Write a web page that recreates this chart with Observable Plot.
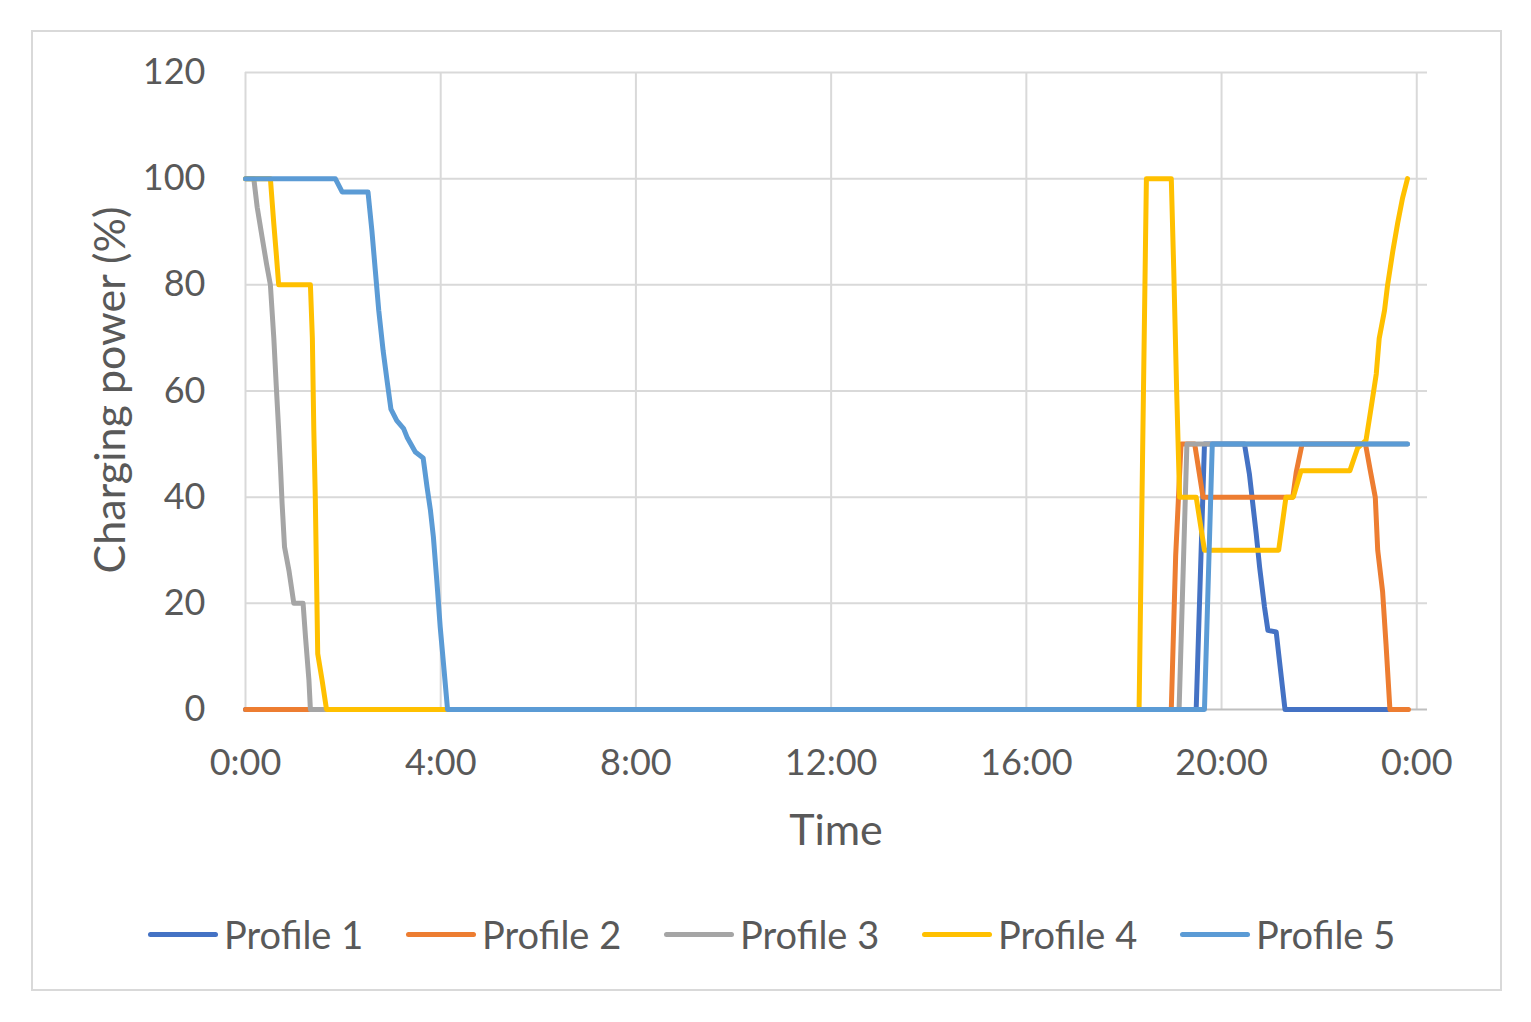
<!DOCTYPE html>
<html>
<head>
<meta charset="utf-8">
<script src="https://cdn.jsdelivr.net/npm/d3@7"></script>
<script src="https://cdn.jsdelivr.net/npm/@observablehq/plot@0.6"></script>
<style>
  html, body { margin: 0; padding: 0; background: #fff; }
  #wrap { position: relative; width: 1531px; height: 1022px; overflow: hidden; font-family: Lato, "Open Sans", sans-serif; color: #595959; }
  #border { position: absolute; left: 31px; top: 30px; width: 1471px; height: 961px; border: 2px solid #d9d9d9; box-sizing: border-box; }
  #chart { position: absolute; left: 0; top: 0; }
  .ytitle { position: absolute; left: 108px; top: 390px; transform: translate(-50%, -50%) rotate(-90deg); font-size: 43px; white-space: nowrap; }
  .xtitle { position: absolute; left: 836px; top: 828px; transform: translate(-50%, -50%); font-size: 43px; white-space: nowrap; }
  #legend { position: absolute; left: 148px; top: 934px; transform: translateY(-50%); display: flex; font-size: 38px; }
  .item { display: flex; align-items: center; width: 258px; }
  .sw { width: 70px; height: 5px; border-radius: 3px; margin-right: 6px; }
</style>
</head>
<body>
<div id="wrap">
  <div id="border"></div>
  <div id="chart"></div>
  <div class="ytitle">Charging power (%)</div>
  <div class="xtitle">Time</div>
  <div id="legend"></div>
</div>
<script>
// Time in hours of the day, value = charging power (%)
const profileNames = ["Profile 1", "Profile 2", "Profile 3", "Profile 4", "Profile 5"];
const profileColors = ["#4472C4", "#ED7D31", "#A5A5A5", "#FFC000", "#5B9BD5"];
const xTicks = [0, 4, 8, 12, 16, 20, 24];
const yTicks = [0, 20, 40, 60, 80, 100, 120];

const profile1 = [[0,0],[19.48,0],[19.65,50],[20.47,50],[20.57,44.4],[20.71,33.1],[20.78,26.8],[20.88,19.3],[20.95,14.9],[21.12,14.6],[21.17,10.5],[21.3,0],[23.81,0]];
const profile2 = [[0,0],[18.97,0],[19.06,29],[19.17,50],[19.45,50],[19.62,40],[21.46,40],[21.53,44.7],[21.65,50],[22.95,50],[23.04,45.4],[23.15,40],[23.2,30],[23.3,22.2],[23.37,12.3],[23.45,0],[23.83,0]];
const profile3 = [[0,100],[0.17,100],[0.24,94.6],[0.34,89],[0.43,84],[0.51,80],[0.58,70],[0.63,61],[0.68,52.6],[0.72,45],[0.75,38.8],[0.8,30.6],[0.89,26.2],[0.99,20],[1.18,20],[1.23,13.6],[1.3,5.5],[1.33,0],[19.13,0],[19.29,50],[23.81,50]];
const profile4 = [[0,100],[0.51,100],[0.58,91.5],[0.63,85.9],[0.68,80],[1.33,80],[1.37,70],[1.4,52.6],[1.43,40],[1.48,10.5],[1.57,5.5],[1.66,0],[18.31,0],[18.46,100],[18.97,100],[19.02,83],[19.08,60],[19.14,40],[19.48,40],[19.65,30],[21.17,30],[21.32,40],[21.47,40],[21.63,45],[22.63,45],[22.79,49.3],[22.96,50.7],[23.06,56.6],[23.17,63.2],[23.23,69.9],[23.34,75.2],[23.4,79.8],[23.51,86.4],[23.61,91.7],[23.71,96.4],[23.81,100]];
const profile5 = [[0,100],[1.84,100],[1.98,97.5],[2.51,97.5],[2.59,90.2],[2.66,82.7],[2.73,75.2],[2.82,67.6],[2.9,62],[2.98,56.6],[3.1,54.4],[3.24,52.9],[3.31,51.3],[3.48,48.5],[3.64,47.4],[3.72,41.9],[3.79,37.5],[3.85,32.5],[3.92,24.3],[3.99,15.5],[4.07,7.3],[4.14,0],[19.65,0],[19.81,50],[23.81,50]];

const series = [profile1, profile2, profile3, profile4, profile5];
const rows = series.flatMap((s, i) => s.map(([t, v]) => ({profile: profileNames[i], t, v})));

const chart = Plot.plot({
  width: 1531,
  height: 870,
  marginLeft: 245,
  marginRight: 104,
  marginTop: 72,
  marginBottom: 161,
  style: {fontFamily: "Lato, 'Open Sans', sans-serif", fontSize: "36px", color: "#595959", background: "transparent"},
  x: {domain: [0, 24.22], ticks: xTicks, tickFormat: d => `${d % 24}:00`, tickSize: 0, tickPadding: 40, label: null},
  y: {domain: [0, 120], ticks: yTicks, tickSize: 0, tickPadding: 40, label: null},
  color: {domain: profileNames, range: profileColors},
  marks: [
    Plot.ruleY(yTicks.filter(d => d > 0), {stroke: "#d9d9d9", strokeWidth: 2}),
    Plot.ruleX(xTicks, {y1: 0, y2: 120, stroke: "#d9d9d9", strokeWidth: 2}),
    Plot.ruleY([0], {stroke: "#bfbfbf", strokeWidth: 2}),
    Plot.line(rows, {x: "t", y: "v", z: "profile", stroke: "profile", strokeWidth: 5, strokeLinejoin: "round", strokeLinecap: "round"})
  ]
});
document.getElementById("chart").appendChild(chart);

const legend = document.getElementById("legend");
profileNames.forEach((name, i) => {
  const item = document.createElement("div");
  item.className = "item";
  const sw = document.createElement("div");
  sw.className = "sw";
  sw.style.background = profileColors[i];
  const label = document.createElement("span");
  label.textContent = name;
  item.appendChild(sw);
  item.appendChild(label);
  legend.appendChild(item);
});
</script>
</body>
</html>
